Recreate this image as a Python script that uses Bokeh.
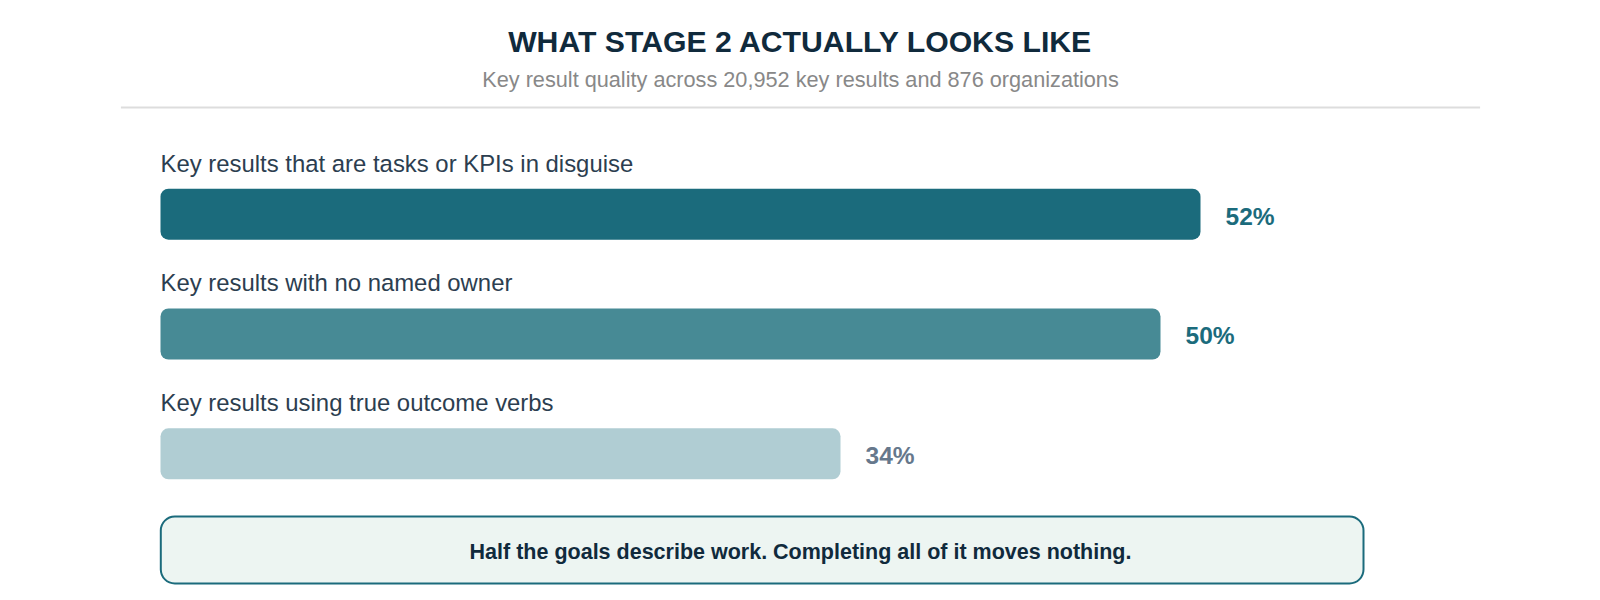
from bokeh.plotting import figure
from bokeh.models import Range1d, ColumnDataSource
from bokeh.core.properties import value
from bokeh.embed import file_html
from bokeh.resources import INLINE

# ---- data ----
categories = [
    "Key results that are tasks or KPIs in disguise",
    "Key results with no named owner",
    "Key results using true outcome verbs",
]
values = [52, 50, 34]
value_labels = ["52%", "50%", "34%"]
title_text = "WHAT STAGE 2 ACTUALLY LOOKS LIKE"
subtitle_text = "Key result quality across 20,952 key results and 876 organizations"
callout_text = "Half the goals describe work. Completing all of it moves nothing."

# ---- style ----
bar_colors = ["#1b6b7c", "#478a95", "#b0cdd3"]
pct_colors = ["#1b6b7c", "#1b6b7c", "#66788c"]
FONT = "Liberation Sans"

W, H = 1584, 590
PX_PER_PCT = 20.0
X0 = 160  # canvas x of 0%
CX = 800  # centre line of the page content

p = figure(width=W, height=H, output_backend="svg", toolbar_location=None,
           x_axis_type=None, y_axis_type=None, min_border=0,
           x_range=Range1d(-X0 / PX_PER_PCT, (W - X0) / PX_PER_PCT),
           y_range=Range1d(H, 0))
p.extra_x_ranges = {"px": Range1d(0, W)}
p.grid.visible = False
p.outline_line_color = None
p.background_fill_color = "white"
p.border_fill_color = "white"

row_gap = 119.8
bar_y = [213.7 + row_gap * i for i in range(len(categories))]
label_y = [162.5 + row_gap * i for i in range(len(categories))]
pct_y = [y + 1.8 for y in bar_y]
pct_x = [v + 1.25 for v in values]

src = ColumnDataSource(dict(cat=categories, val=values, lab=value_labels,
                            by=bar_y, ly=label_y, py=pct_y, px=pct_x,
                            bc=bar_colors, pc=pct_colors, zero=[0] * len(values)))

# bars
p.hbar(y="by", left="zero", right="val", height=51, fill_color="bc",
       line_color=None, border_radius=8, source=src)
# category labels
p.text(x="zero", y="ly", text="cat", text_font=value(FONT), text_font_size="23.9px",
       text_color="#2c3e50", text_baseline="middle", text_align="left", source=src)
# percent labels
p.text(x="px", y="py", text="lab", text_font=value(FONT), text_font_size="24.5px",
       text_font_style="bold", text_color="pc", text_baseline="middle",
       text_align="left", source=src)

# title and subtitle
p.text(x=[CX], y=[41], text=[title_text], x_range_name="px", text_font=value(FONT),
       text_font_size="30.2px", text_font_style="bold", text_color="#102a3c",
       text_align="center", text_baseline="middle")
p.text(x=[CX], y=[78.5], text=[subtitle_text], x_range_name="px", text_font=value(FONT),
       text_font_size="21.7px", text_color="#888888",
       text_align="center", text_baseline="middle")
# divider
p.segment(x0=[120.4], x1=[1479.6], y0=[107], y1=[107], x_range_name="px",
          line_color="#dddddd", line_width=2)

# callout box
p.quad(left=[160.3], right=[1363], top=[516], bottom=[583], x_range_name="px",
       fill_color="#edf5f2", line_color="#1b6b7c", line_width=2, border_radius=14)
p.text(x=[CX], y=[551], text=[callout_text], x_range_name="px", text_font=value(FONT),
       text_font_size="21.5px", text_font_style="bold", text_color="#102a3c",
       text_align="center", text_baseline="middle")

open("out.html", "w").write(file_html(p, INLINE))
